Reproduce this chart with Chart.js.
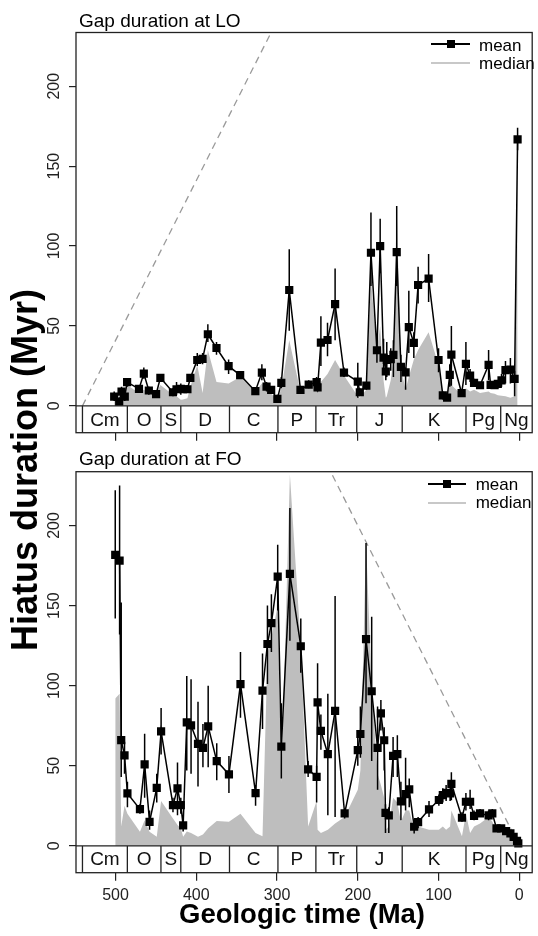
<!DOCTYPE html>
<html><head><meta charset="utf-8">
<script src="https://cdn.jsdelivr.net/npm/chart.js@4.4.1/dist/chart.umd.min.js"></script>
<style>
html,body{margin:0;padding:0;background:#fff;}
#wrap{position:relative;width:538px;height:936px;overflow:hidden;font-family:"Liberation Sans",Arial,sans-serif;color:#000;}
canvas{position:absolute;left:0;}
.t{position:absolute;white-space:nowrap;}
.ln{position:absolute;}
</style></head><body>
<div id="wrap">
<canvas id="c1" width="538" height="450" style="top:0;width:538px;height:450px"></canvas>
<canvas id="c2" width="538" height="486" style="top:450px;width:538px;height:486px"></canvas>
<div class="t" style="left:79px;top:10.6px;font-size:19px;line-height:19px">Gap duration at LO</div>
<div class="t" style="left:79px;top:448.9px;font-size:19px;line-height:19px">Gap duration at FO</div>

<div class="ln" style="left:431px;top:43.3px;width:39px;height:1.5px;background:#000"></div>
<div class="ln" style="left:446.7px;top:40px;width:8px;height:8px;background:#000"></div>
<div class="t" style="left:479px;top:37.1px;font-size:17px;line-height:17px">mean</div>
<div class="ln" style="left:431px;top:62px;width:39px;height:2px;background:#c8c8c8"></div>
<div class="t" style="left:479px;top:55.1px;font-size:17px;line-height:17px">median</div>

<div class="ln" style="left:427.7px;top:483.3px;width:38px;height:1.5px;background:#000"></div>
<div class="ln" style="left:442.7px;top:480px;width:8px;height:8px;background:#000"></div>
<div class="t" style="left:475.7px;top:475.6px;font-size:17px;line-height:17px">mean</div>
<div class="ln" style="left:427.7px;top:501.5px;width:38px;height:2px;background:#c8c8c8"></div>
<div class="t" style="left:475.7px;top:494.1px;font-size:17px;line-height:17px">median</div>

<div class="t" style="left:52px;width:500px;text-align:center;top:899.7px;font-size:27.5px;line-height:27.5px;font-weight:bold">Geologic time (Ma)</div>
<div class="t" style="left:-275px;width:600px;text-align:center;top:452px;font-size:36px;line-height:36px;font-weight:bold;transform:rotate(-90deg);transform-origin:50% 50%">Hiatus duration (Myr)</div>
</div>
<script>
// ---------- data ----------
const periodBounds = [541, 485.4, 443.8, 419.2, 358.9, 298.9, 251.9, 201.3, 145, 66, 23];
const periodNames = ['Cm','O','S','D','C','P','Tr','J','K','Pg','Ng'];
const xTicks = [500, 400, 300, 200, 100, 0];
const yTicks = [0, 50, 100, 150, 200];

// Gap duration at LO
const loAges = [501.7,495.5,492.6,488.6,485.7,471,465,458.8,449.8,444.5,
 428.9,424.5,419.2,416.5,411,407.4,398.8,392.2,385.7,375,
 360,345.7,326.9,318.8,313,307.3,299.6,294.7,284.9,271,
 260.8,251,249.8,245.7,237.5,228.1,217.1,200,197.5,189.4,
 183.7,176.3,172.3,168.1,165.3,164.1,159.2,155.9,151.8,146.6,
 140.8,136.8,130.6,125.3,112.3,100,94.7,89.4,86.1,84.1,
 71.4,66.1,60.9,56,48.6,38,35.5,30.6,26.6,22,
 17.1,11,5.8,2.1];
const loMean = [5.8,2.7,8.9,5.8,14.8,10.6,20.2,9.6,7.3,17.5,
 8.5,10.4,10.6,10.4,10.4,17.5,28.7,29.4,44.8,36.2,
 24.8,19.2,9.2,20.8,12.0,10.0,4.4,14.4,72.5,10.0,
 13.3,14.8,11.5,39.6,41.2,63.7,20.8,15.2,8.5,12.7,
 95.8,34.8,100.0,30.2,21.5,28.7,29.2,31.9,96.2,24.4,
 21.0,49.2,39.4,75.6,79.6,28.7,6.5,5.2,19.4,32.0,
 7.9,26.2,19.0,14.4,12.9,25.6,13.1,12.9,13.7,16.0,
 22.3,22.7,16.9,166.7];
const loLow = [3,0.5,6,3,12,8,17,7,5,15,
 6,7,7,8,8,15,25,26,40,32,
 20,17,7,16,9,8,2,11,47,8,
 11,12,9,25,31,41,18,5,6,10,
 75,27,83,20,16,18,22,18,75,15,
 10,33,30,64,65,21,4,3,12,12.5,
 6,13,15,12,11,16,11,11,11,12,
 14,14,6,160];
const loHigh = [9,5,12,9,17,13,24,12,9,20,
 11,15,14,13,13,20,33,33,51,40,
 29,21,11,26,15,12,7,18,98,12,
 16,18,14,56,52,86,24,27,11,15,
 121,42,117,42,28,40,36,41,125,32,
 24,72,46,87,95,36,9,8,26,50,
 10,40,23,17,15,35,15,15,16,20,
 28,30,22,174];
const loMedian = [3.8,4.8,8,10,13,8,10,8,7.5,13,
 7,6,3.8,4,4.8,12,25.6,8,35,15,
 14,18,9,14,10,7.5,3.8,11,41,9,
 12,13,12,15,20,28.7,19,6,5,10,
 79,35,50,16,5,6,16,29,124.6,23.5,
 10,18,29,35,46,25.6,9,8,14,13,
 7,11,9,10,8,9,8,7.5,6.7,6.3,
 6,5,6,160];

// Gap duration at FO
const foAges = [500.4,495,493,488.9,485.3,469.8,464,457.9,449,443.6,
 428.9,423.3,419.2,416.3,411.8,406.5,397.9,391.8,385.3,374.7,
 359.6,345.3,326.6,318,311.9,307,299.2,294.7,284.1,270.6,
 261.5,251,249.8,245.7,237.1,228.1,216.3,200,196.8,189.8,
 182.8,175.5,171.4,167.3,165.7,161.6,156.3,151,146.6,140.8,
 136.3,130.2,125.3,111.8,99.6,94.7,90.6,85.7,84.1,71,
 66.1,60.9,56,48.6,38,33.4,28.2,22.4,16.3,11,
 7,2.8,1.2];
const foMean = [181.7,178.1,66,56.5,32.7,22.9,50.9,15,36.2,71.5,
 25.4,35.9,25.4,12.7,77.1,75.2,63.7,61.2,74.6,52.9,
 44.6,101,32.9,96.9,126,139,168.1,61.9,169.8,124.6,
 47.7,43.1,89.6,71.7,57.3,84.2,20.2,59.8,69.8,129,
 96.5,61.2,82.7,65.9,20.6,19,56.2,57.3,27.7,32.3,
 35.2,11.9,14.8,22.7,28.6,31.7,33.1,32.7,38.7,17.5,
 27.5,27.5,18.7,20.2,19,20.2,10.9,10.9,9.2,7.7,
 5.6,3.1,1.5];
const foLow = [142,132,43,45,24,20,30,10,27,57,
 21,19,20,9,47,45,37,49,49,41,
 33,80,25,73,101,121,147,42,128,108,
 43,27,70,60,19,18,17,50,55,89,
 53,35,72,47,8,8,43,43,16,22,
 24,7.7,11,18,25,27,28,28,28.5,15,
 22,23,16,18,16,18,9,9,8,6,
 4,2,1];
const foHigh = [222,225,152,65,40,26,70,22,45,86,
 30,52,30,17,106,104,90,76,100,64,
 56,121,38,120,150,157,188,89,211,142,
 53,50,114,82,95,156,23,72,87,189,
 143,87,91,74,26,24,68,69,40,55,
 42,16,18,28,32,36,38,36,46,21,
 33,35,22,23,22,23,13,13,11,9,
 7,4,2];
const foMedian = [92,95,12,25,20,8.8,16,8.8,5.6,28,
 17,13,11,5.6,9,8,5.6,7,11,15.5,
 15,20,8,6,120,130,150,40,232,125,
 12,28,10,8,10,14,18,35,47,190,
 100,45,38,30,10,12,30,27,15,22,
 22,10,12,10,10,12,10,12,22,6,
 20,8,12,14,18,15,10,9,7,5,
 4,2,1];

// diagonal reference lines (maximum possible gap)
const loDiagX = [541, 241];
const loDiagY = [0, 300];
const foDiagX = [0, 260];
const foDiagY = [0, 260];

// ---------- helpers ----------
const X_MIN = -16, X_MAX = 549, Y_MIN = -16.8, Y_MAX = 233.6;
function pts(xs, ys){ return xs.map((a,i)=>({x:a, y:ys[i]})); }
function errData(ages, lo, hi){
  const d = [];
  ages.forEach((a,i)=>{ d.push({x:a,y:lo[i]},{x:a,y:hi[i]},{x:a,y:null}); });
  return d;
}

const geoPlugin = {
  id: 'geoBar',
  afterDatasetsDraw(chart){
    const {ctx, chartArea:a, scales:{x, y}} = chart;
    ctx.save();
    ctx.strokeStyle = '#222';
    ctx.lineWidth = 1.3;
    const y0 = y.getPixelForValue(0);
    ctx.beginPath();
    ctx.moveTo(a.left, y0); ctx.lineTo(a.right, y0);
    periodBounds.forEach(b=>{
      const px = x.getPixelForValue(b);
      ctx.moveTo(px, y0); ctx.lineTo(px, a.bottom);
    });
    ctx.stroke();
    ctx.strokeRect(a.left, a.top, a.right - a.left, a.bottom - a.top);
    ctx.fillStyle = '#111';
    ctx.font = '19px "Liberation Sans", Arial, sans-serif';
    ctx.textAlign = 'center';
    ctx.textBaseline = 'middle';
    const ym = (y0 + a.bottom) / 2 + 1;
    periodNames.forEach((n,i)=>{
      const from = periodBounds[i];
      const to = i + 1 < periodBounds.length ? periodBounds[i+1] : X_MIN;
      const px = x.getPixelForValue((from + to) / 2);
      ctx.fillText(n, px, ym);
    });
    ctx.restore();
  }
};

function makeChart(id, cfg){
  return new Chart(document.getElementById(id), {
    type: 'line',
    data: { datasets: [
      { label:'mean', data: pts(cfg.ages, cfg.mean), borderColor:'#000', backgroundColor:'#000',
        borderWidth:1.5, pointStyle:'rect', pointRadius:5.8, pointBorderWidth:0,
        pointBackgroundColor:'#000', tension:0, order:0 },
      { label:'range', data: errData(cfg.ages, cfg.low, cfg.high), borderColor:'#000',
        borderWidth:1.5, pointRadius:0, spanGaps:false, tension:0, order:1 },
      { label:'limit', data: pts(cfg.diagX, cfg.diagY), borderColor:'#9a9a9a', borderDash:[7,5],
        borderWidth:1.3, pointRadius:0, tension:0, order:2 },
      { label:'median', data: pts(cfg.ages, cfg.med), borderColor:'rgba(0,0,0,0)', borderWidth:0,
        backgroundColor:'#bebebe', fill:'origin', pointRadius:0, tension:0, order:3 }
    ]},
    options: {
      responsive:false, animation:false, devicePixelRatio:1, events:[],
      layout:{ padding:{ top:cfg.padTop, right:1, left:0, bottom:0 } },
      plugins:{ legend:{display:false}, tooltip:{enabled:false}, title:{display:false} },
      scales:{
        x:{ type:'linear', reverse:true, min:X_MIN, max:X_MAX,
          afterBuildTicks:s=>{ s.ticks = xTicks.map(v=>({value:v})); },
          afterFit:s=>{ s.height = cfg.xh; },
          grid:{ drawOnChartArea:false, drawTicks:true, tickLength:8, color:'#222', lineWidth:1.2 },
          border:{ display:false },
          ticks:{ display:cfg.showX, font:{family:'"Liberation Sans", Arial', size:16}, color:'#222',
                  padding:5, maxRotation:0, minRotation:0 } },
        y:{ type:'linear', min:Y_MIN, max:Y_MAX,
          afterBuildTicks:s=>{ s.ticks = yTicks.map(v=>({value:v})); },
          afterFit:s=>{ s.width = 76; },
          grid:{ drawOnChartArea:false, drawTicks:true, tickLength:7, color:'#222', lineWidth:1.2 },
          border:{ display:false },
          ticks:{ font:{family:'"Liberation Sans", Arial', size:16}, color:'#222',
                  minRotation:90, maxRotation:90, crossAlign:'center', padding:1 } }
      }
    },
    plugins:[geoPlugin]
  });
}

makeChart('c1', { ages:loAges, mean:loMean, low:loLow, high:loHigh, med:loMedian,
  diagX:loDiagX, diagY:loDiagY, padTop:32.5, xh:17.3, showX:false });
makeChart('c2', { ages:foAges, mean:foMean, low:foLow, high:foHigh, med:foMedian,
  diagX:foDiagX, diagY:foDiagY, padTop:21.7, xh:63.3, showX:true });
</script>
</body></html>
